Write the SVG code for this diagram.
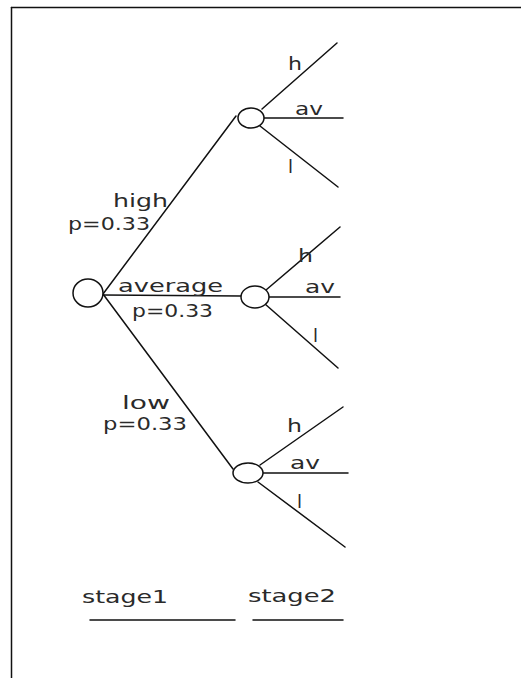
<svg xmlns="http://www.w3.org/2000/svg" width="521" height="678" viewBox="0 0 521 678">
<style>
.ln{stroke:#111;stroke-width:1.5;fill:none;stroke-linecap:round}
.nd{stroke:#111;stroke-width:1.5;fill:#fff}
.t{font-family:"DejaVu Sans","Liberation Sans",sans-serif;font-size:17px;fill:#2a2a2a}
.s{font-family:"DejaVu Sans","Liberation Sans",sans-serif;font-size:17px;fill:#2a2a2a}
</style>
<rect width="521" height="678" fill="#fff"/>
<g id="frame">
<line class="ln" x1="11.5" y1="7.5" x2="521" y2="7.5"/>
<line class="ln" x1="11.5" y1="7.5" x2="11.5" y2="678"/>
</g>
<g id="connectors">
<line class="ln" x1="103" y1="294" x2="236" y2="116"/>
<line class="ln" x1="103" y1="295" x2="241" y2="296"/>
<line class="ln" x1="103" y1="294" x2="233" y2="469"/>
<line class="ln" x1="262" y1="109" x2="337" y2="43"/>
<line class="ln" x1="264" y1="118" x2="343" y2="118"/>
<line class="ln" x1="260" y1="126" x2="338" y2="187"/>
<line class="ln" x1="266" y1="290" x2="340" y2="227"/>
<line class="ln" x1="269" y1="297" x2="340" y2="297"/>
<line class="ln" x1="265" y1="304" x2="338" y2="368"/>
<line class="ln" x1="260" y1="465" x2="343" y2="407"/>
<line class="ln" x1="263" y1="473" x2="348" y2="473"/>
<line class="ln" x1="258" y1="482" x2="345" y2="547"/>
</g>
<g id="labels">
<text class="t" x="113" y="207" textLength="55" lengthAdjust="spacingAndGlyphs">high</text>
<text class="t" x="68" y="230" textLength="82" lengthAdjust="spacingAndGlyphs">p=0.33</text>
<text class="t" x="118" y="292" textLength="105" lengthAdjust="spacingAndGlyphs">average</text>
<text class="t" x="132" y="317" textLength="81" lengthAdjust="spacingAndGlyphs">p=0.33</text>
<text class="t" x="122" y="409" textLength="48" lengthAdjust="spacingAndGlyphs">low</text>
<text class="t" x="103" y="430" textLength="84" lengthAdjust="spacingAndGlyphs">p=0.33</text>
<text class="t" x="288" y="70" textLength="14" lengthAdjust="spacingAndGlyphs">h</text>
<text class="t" x="295" y="115" textLength="28" lengthAdjust="spacingAndGlyphs">av</text>
<text class="t" x="288" y="173" textLength="5" lengthAdjust="spacingAndGlyphs">l</text>
<text class="t" x="298" y="262" textLength="15" lengthAdjust="spacingAndGlyphs">h</text>
<text class="t" x="305" y="293" textLength="30" lengthAdjust="spacingAndGlyphs">av</text>
<text class="t" x="313" y="342" textLength="5" lengthAdjust="spacingAndGlyphs">l</text>
<text class="t" x="287" y="432" textLength="15" lengthAdjust="spacingAndGlyphs">h</text>
<text class="t" x="290" y="469" textLength="30" lengthAdjust="spacingAndGlyphs">av</text>
<text class="t" x="297" y="508" textLength="5" lengthAdjust="spacingAndGlyphs">l</text>
</g>
<g id="root"><ellipse class="nd" cx="88" cy="293" rx="15" ry="14"/></g>
<g id="node-high"><ellipse class="nd" cx="251" cy="118" rx="13" ry="10"/></g>
<g id="node-average"><ellipse class="nd" cx="255" cy="297" rx="14" ry="11"/></g>
<g id="node-low"><ellipse class="nd" cx="248" cy="473" rx="15" ry="10"/></g>
<g id="stages">
<text class="s" x="82" y="603" textLength="86" lengthAdjust="spacingAndGlyphs">stage1</text>
<text class="s" x="248" y="602" textLength="88" lengthAdjust="spacingAndGlyphs">stage2</text>
<line class="ln" x1="90" y1="620" x2="235" y2="620"/>
<line class="ln" x1="253" y1="620" x2="343" y2="620"/>
</g>
</svg>
